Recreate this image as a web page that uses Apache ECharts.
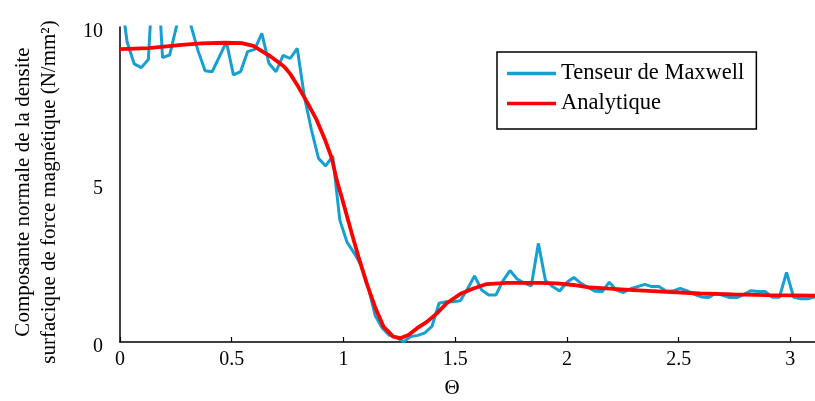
<!DOCTYPE html>
<html>
<head>
<meta charset="utf-8">
<script src="https://cdn.jsdelivr.net/npm/echarts@6/dist/echarts.min.js"></script>
<style>html,body{margin:0;padding:0;background:#fff;}#c{width:815px;height:401px;}</style>
</head>
<body>
<div id="c"></div>
<script>
// Theta sample positions (rad) of the Maxwell tensor curve
const thetaMaxwell = [0,0.0317,0.0635,0.0952,0.1269,0.1587,0.1904,0.2221,0.2539,0.2856,
0.3173,0.3491,0.3808,0.4125,0.4443,0.4760,0.5077,0.5395,0.5712,0.6029,
0.6347,0.6664,0.6981,0.7299,0.7616,0.7933,0.8251,0.8568,0.8885,0.9203,
0.9520,0.9837,1.0155,1.0472,1.0789,1.1107,1.1424,1.1741,1.2059,1.2376,
1.2693,1.3011,1.3328,1.3645,1.3963,1.4280,1.4597,1.4915,1.5232,1.5549,
1.5867,1.6184,1.6501,1.6819,1.7136,1.7453,1.7771,1.8088,1.8405,1.8723,
1.9040,1.9357,1.9675,1.9992,2.0309,2.0627,2.0944,2.1261,2.1579,2.1896,
2.2213,2.2531,2.2848,2.3165,2.3483,2.3800,2.4117,2.4435,2.4752,2.5069,
2.5387,2.5704,2.6021,2.6339,2.6656,2.6973,2.7291,2.7608,2.7925,2.8243,
2.8560,2.8877,2.9195,2.9512,2.9829,3.0147,3.0464,3.0781,3.1099,3.1416];
const valuesMaxwell = [11.2,9.53,8.83,8.71,8.97,13.0,9.03,9.11,10.05,10.8,
10.05,9.25,8.61,8.58,9.05,9.53,8.48,8.58,9.22,9.29,
9.80,8.85,8.58,9.10,9.00,9.32,7.79,6.73,5.83,5.59,
5.90,3.87,3.18,2.83,2.44,1.75,0.83,0.44,0.21,0.15,
0.01,0.17,0.21,0.29,0.50,1.23,1.28,1.28,1.31,1.68,
2.10,1.65,1.49,1.49,1.94,2.27,2.00,1.87,1.78,3.13,
1.95,1.76,1.62,1.89,2.05,1.86,1.73,1.61,1.60,1.90,
1.65,1.57,1.69,1.76,1.83,1.76,1.76,1.62,1.62,1.70,
1.62,1.51,1.43,1.41,1.55,1.48,1.41,1.41,1.51,1.63,
1.60,1.60,1.42,1.42,2.21,1.42,1.37,1.37,1.44,1.45];

// Analytic curve
const thetaAnalytic = [0,0.127,0.276,0.366,0.47,0.545,0.597,0.649,0.671,0.709,
0.735,0.761,0.798,0.836,0.88,0.918,0.948,0.97,1.0,1.037,1.067,
1.104,1.141,1.179,1.223,1.253,1.291,1.328,1.373,1.418,1.462,
1.522,1.581,1.641,1.731,1.88,1.955,2.029,2.104,2.171,2.298,
2.447,2.596,2.745,2.895,3.111,3.1416];
const valuesAnalytic = [9.30,9.33,9.43,9.48,9.50,9.49,9.40,9.17,9.08,8.88,
8.74,8.52,8.10,7.63,7.05,6.41,5.83,5.14,4.40,3.45,2.71,
1.86,1.12,0.49,0.17,0.12,0.22,0.43,0.64,0.91,1.23,
1.52,1.70,1.84,1.88,1.88,1.86,1.81,1.73,1.70,1.65,
1.59,1.54,1.51,1.49,1.47,1.47];

const xTicks = ['0','0.5','1','1.5','2','2.5','3'];
const yTicks = ['0','5','10'];
const seriesNames = ['Tenseur de Maxwell','Analytique'];

const FONT = 'Liberation Serif';
const chart = echarts.init(document.getElementById('c'), null, {renderer:'canvas'});
chart.setOption({
  animation:false,
  backgroundColor:'#fff',
  grid:{left:120, top:27, height:315, width:702, containLabel:false, outerBoundsMode:'none'},
  legend:{
    data:seriesNames,
    orient:'vertical', left:497, top:52,
    icon:'rect', itemWidth:49, itemHeight:3.5, itemGap:7,
    padding:[10,12,14,10],
    borderColor:'#000', borderWidth:1.5, backgroundColor:'#fff',
    textStyle:{fontFamily:FONT, fontSize:22.5, color:'#000'}
  },
  xAxis:{
    type:'value', min:0, max:Math.PI, interval:0.5,
    name:'\u0398', nameLocation:'middle', nameGap:36,
    nameTextStyle:{fontFamily:FONT, fontSize:21, color:'#000', padding:[0,38,0,0]},
    axisLine:{lineStyle:{color:'#000', width:1.5}},
    axisTick:{inside:true, length:5, lineStyle:{color:'#000', width:1.2}},
    axisLabel:{fontFamily:FONT, fontSize:20, color:'#000', margin:8, showMaxLabel:false,
      formatter:function(v){ const s = (Math.round(v*10)/10).toString(); return xTicks.indexOf(s)>=0 && Math.abs(v*2-Math.round(v*2))<1e-6 ? s : ''; }},
    splitLine:{show:false}
  },
  yAxis:{
    type:'value', min:0, max:10, interval:5,
    name:'Composante normale de la densite\nsurfacique de force magnétique (N/mm\u00b2)',
    nameLocation:'middle', nameRotate:90, nameGap:58,
    nameTextStyle:{fontFamily:FONT, fontSize:21, color:'#000', lineHeight:26, padding:[0,15,0,0]},
    axisLine:{show:true, lineStyle:{color:'#000', width:1.5}},
    axisTick:{show:false},
    axisLabel:{color:'#000', margin:17,
      rich:{t:{fontFamily:FONT, fontSize:20, color:'#000', padding:[9,0,0,0]}},
      formatter:function(v){ const s=String(v); return yTicks.indexOf(s)>=0 ? '{t|'+s+'}' : ''; }},
    splitLine:{show:false}
  },
  series:[
    {name:seriesNames[0], type:'line', showSymbol:false, symbol:'none', clip:true,
     lineStyle:{color:'#159fd2', width:3}, itemStyle:{color:'#159fd2'},
     data:thetaMaxwell.map((t,i)=>[t, valuesMaxwell[i]]), z:2},
    {name:seriesNames[1], type:'line', showSymbol:false, symbol:'none', clip:true,
     lineStyle:{color:'#ff0000', width:3.8}, itemStyle:{color:'#ff0000'},
     data:thetaAnalytic.map((t,i)=>[t, valuesAnalytic[i]]), z:3}
  ]
});
</script>
</body>
</html>
